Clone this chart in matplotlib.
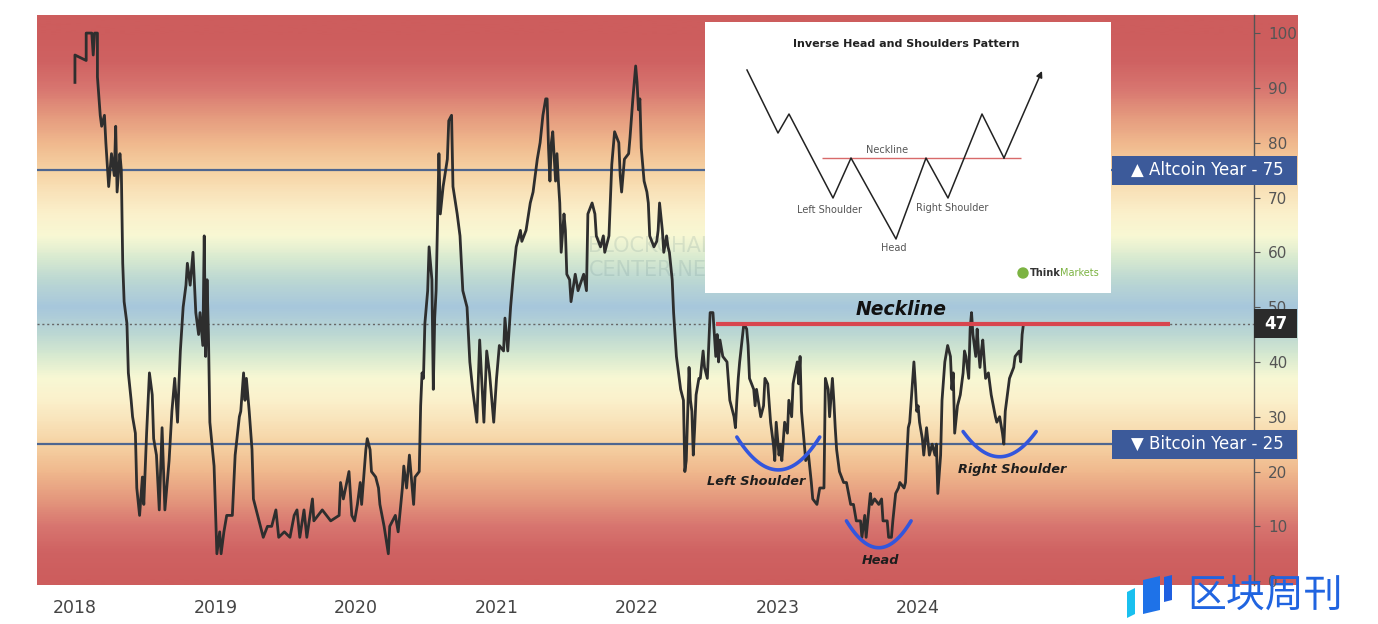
import numpy as np
import matplotlib.pyplot as plt
from matplotlib.colors import LinearSegmentedColormap
from matplotlib.patches import Rectangle, Polygon, Circle

# altcoin season index: decimal year / index value
t2018 = [2018.00, 2018.00, 2018.08, 2018.08, 2018.12, 2018.13, 2018.14, 2018.16, 2018.16, 2018.18,
         2018.19, 2018.21, 2018.22, 2018.23, 2018.24, 2018.26, 2018.28, 2018.29, 2018.30, 2018.32,
         2018.33, 2018.34, 2018.35, 2018.37, 2018.38, 2018.40, 2018.41, 2018.43, 2018.44, 2018.46,
         2018.48, 2018.49, 2018.51, 2018.53, 2018.55, 2018.56, 2018.58, 2018.60, 2018.62, 2018.64,
         2018.67, 2018.69, 2018.71, 2018.73, 2018.74, 2018.75, 2018.77, 2018.79, 2018.80, 2018.82,
         2018.84, 2018.86, 2018.88, 2018.89, 2018.91, 2018.92, 2018.93, 2018.94, 2018.95, 2018.96,
         2018.99]
v2018 = [91, 96, 95, 100, 100, 96, 100, 100, 92, 85,
         83, 85, 80, 76, 72, 78, 74, 83, 71, 78,
         75, 58, 51, 47, 38, 33, 30, 27, 17, 12,
         19, 14, 27, 38, 34, 26, 23, 13, 28, 13,
         22, 31, 37, 29, 36, 42, 50, 54, 58, 54,
         60, 49, 45, 49, 43, 63, 41, 55, 45, 29,
         21]

t2019 = [2019.01, 2019.03, 2019.04, 2019.06, 2019.08, 2019.12, 2019.14, 2019.17, 2019.18, 2019.20,
         2019.21, 2019.22, 2019.24, 2019.26, 2019.27, 2019.30, 2019.32, 2019.34, 2019.37, 2019.40,
         2019.43, 2019.45, 2019.49, 2019.53, 2019.56, 2019.58, 2019.60, 2019.63, 2019.65, 2019.69,
         2019.70, 2019.73, 2019.76, 2019.79, 2019.82, 2019.88, 2019.89, 2019.91, 2019.95, 2019.97,
         2019.99]
v2019 = [5, 9, 5, 9, 12, 12, 23, 30, 31, 38,
         33, 37, 31, 24, 15, 12, 10, 8, 10, 10,
         13, 8, 9, 8, 12, 13, 8, 13, 8, 15,
         11, 12, 13, 12, 11, 12, 18, 15, 20, 12,
         11]

t2020 = [2020.01, 2020.03, 2020.04, 2020.07, 2020.08, 2020.10, 2020.11, 2020.14, 2020.16, 2020.17,
         2020.20, 2020.23, 2020.24, 2020.28, 2020.30, 2020.33, 2020.34, 2020.36, 2020.38, 2020.41,
         2020.42, 2020.45, 2020.46, 2020.47, 2020.48, 2020.49, 2020.51, 2020.52, 2020.54, 2020.55,
         2020.56, 2020.57, 2020.59, 2020.60, 2020.62, 2020.65, 2020.66, 2020.68, 2020.69, 2020.72,
         2020.74, 2020.76, 2020.79, 2020.81, 2020.83, 2020.86, 2020.88, 2020.91, 2020.93, 2020.95,
         2020.98]
v2020 = [14, 18, 14, 24, 26, 24, 20, 19, 17, 14,
         10, 5, 10, 12, 9, 17, 21, 17, 23, 14,
         19, 20, 32, 38, 37, 47, 53, 61, 55, 35,
         48, 53, 78, 67, 72, 77, 84, 85, 72, 67,
         63, 53, 50, 40, 35, 29, 44, 29, 42, 38,
         29]

t2021 = [2021.00, 2021.02, 2021.05, 2021.06, 2021.08, 2021.10, 2021.12, 2021.14, 2021.17, 2021.18,
         2021.21, 2021.24, 2021.26, 2021.29, 2021.31, 2021.33, 2021.35, 2021.36, 2021.37, 2021.38,
         2021.39, 2021.40, 2021.42, 2021.43, 2021.44, 2021.45, 2021.46, 2021.48, 2021.49, 2021.50,
         2021.52, 2021.53, 2021.56, 2021.58, 2021.62, 2021.64, 2021.65, 2021.68, 2021.70, 2021.71,
         2021.74, 2021.76, 2021.77, 2021.80, 2021.82, 2021.84, 2021.87, 2021.88, 2021.89, 2021.91,
         2021.94, 2021.95, 2021.97, 2021.99]
v2021 = [37, 43, 42, 48, 42, 50, 56, 61, 64, 62,
         64, 69, 71, 77, 80, 85, 88, 88, 79, 73,
         80, 82, 73, 78, 73, 69, 60, 67, 64, 56,
         55, 51, 56, 53, 56, 53, 67, 69, 67, 63,
         61, 63, 60, 63, 76, 82, 80, 74, 71, 77,
         78, 81, 88, 94]

t2022 = [2022.00, 2022.01, 2022.02, 2022.03, 2022.05, 2022.07, 2022.08, 2022.09, 2022.12, 2022.14,
         2022.15, 2022.16, 2022.18, 2022.19, 2022.21, 2022.22, 2022.23, 2022.25, 2022.26, 2022.27,
         2022.28, 2022.31, 2022.33, 2022.34, 2022.35, 2022.37, 2022.38, 2022.39, 2022.40, 2022.41,
         2022.42, 2022.44, 2022.45, 2022.47, 2022.48, 2022.50, 2022.52, 2022.54, 2022.56, 2022.57,
         2022.58, 2022.59, 2022.61, 2022.64, 2022.66, 2022.69, 2022.70, 2022.71, 2022.72, 2022.73,
         2022.76, 2022.78, 2022.79, 2022.80, 2022.83, 2022.84, 2022.85, 2022.88, 2022.90, 2022.91,
         2022.93, 2022.95, 2022.97, 2022.98, 2022.99]
v2022 = [91, 86, 88, 79, 73, 71, 69, 63, 61, 62,
         64, 69, 64, 60, 63, 61, 60, 55, 49, 45,
         41, 35, 33, 20, 22, 39, 33, 31, 23, 28,
         34, 37, 37, 42, 39, 37, 49, 49, 41, 45,
         40, 44, 41, 40, 33, 30, 28, 33, 37, 40,
         47, 46, 43, 37, 35, 32, 35, 30, 32, 37,
         36, 29, 25, 22, 29]

t2023 = [2023.01, 2023.02, 2023.03, 2023.05, 2023.07, 2023.08, 2023.10, 2023.11, 2023.14, 2023.15,
         2023.16, 2023.17, 2023.19, 2023.20, 2023.22, 2023.24, 2023.25, 2023.28, 2023.30, 2023.33,
         2023.34, 2023.36, 2023.37, 2023.39, 2023.40, 2023.41, 2023.42, 2023.44, 2023.47, 2023.49,
         2023.52, 2023.54, 2023.56, 2023.59, 2023.60, 2023.62, 2023.63, 2023.66, 2023.67, 2023.69,
         2023.72, 2023.74, 2023.75, 2023.78, 2023.79, 2023.81, 2023.82, 2023.84, 2023.86, 2023.87,
         2023.90, 2023.91, 2023.93, 2023.94, 2023.97, 2023.98, 2023.99]
v2023 = [23, 25, 22, 29, 27, 33, 30, 36, 40, 36,
         41, 31, 25, 22, 23, 18, 15, 14, 17, 17,
         37, 35, 30, 37, 33, 28, 24, 20, 18, 18,
         14, 14, 11, 11, 8, 12, 8, 16, 14, 15,
         14, 15, 11, 11, 8, 8, 11, 16, 17, 18,
         17, 18, 28, 29, 40, 36, 31]

t2024 = [2024.00, 2024.01, 2024.03, 2024.04, 2024.06, 2024.08, 2024.10, 2024.12, 2024.13, 2024.14,
         2024.16, 2024.17, 2024.19, 2024.21, 2024.23, 2024.24, 2024.25, 2024.26, 2024.28, 2024.30,
         2024.32, 2024.33, 2024.34, 2024.36, 2024.37, 2024.38, 2024.39, 2024.41, 2024.42, 2024.43,
         2024.44, 2024.45, 2024.46, 2024.48, 2024.50, 2024.52, 2024.55, 2024.56, 2024.58, 2024.60,
         2024.61, 2024.62, 2024.63, 2024.65, 2024.68, 2024.69, 2024.72, 2024.73, 2024.74, 2024.75]
v2024 = [32, 29, 26, 23, 28, 23, 25, 23, 25, 16,
         23, 33, 40, 43, 41, 35, 38, 27, 32, 34,
         38, 42, 41, 37, 46, 49, 45, 41, 46, 42,
         39, 42, 44, 37, 38, 34, 30, 29, 30, 27,
         25, 31, 33, 37, 39, 41, 42, 40, 45, 47]

years = [2018, 2019, 2020, 2021, 2022, 2023, 2024]
yticks = list(range(0, 101, 10))
altcoin_level = 75
bitcoin_level = 25
last_value = 47

# inverse head & shoulders pattern: start, end of each smile, their rim and bottom level
shape_names = ['Left Shoulder', 'Head', 'Right Shoulder']
arc_start = [2022.71, 2023.49, 2024.32]
arc_end = [2023.30, 2023.95, 2024.84]
arc_rim = [26.3, 11.0, 27.3]
arc_bottom = [20.3, 6.1, 22.7]
label_t = [2022.85, 2023.73, 2024.67]
label_v = [18.1, 3.8, 20.3]
neck_from, neck_to = 2022.56, 2025.79

# schematic in the inset (inset pixel units, y down)
pat_x = [42, 73, 84, 128, 146, 191, 221, 243, 277, 299, 337]
pat_y = [48, 111, 92, 176, 136, 217, 136, 176, 92, 136, 49]

t = np.concatenate([t2018, t2019, t2020, t2021, t2022, t2023, t2024])
v = np.concatenate([v2018, v2019, v2020, v2021, v2022, v2023, v2024])

W, H = 1378, 624
def fx(px):
    return px / W
def fy(py):
    return 1 - py / H

ylo, yhi = -0.7, 103.3
xlo, xhi = 2017.73, 2026.39

fig = plt.figure(figsize=(13.78, 6.24), dpi=100)

# gradient background, symmetric around 50
half = [(0, '#cd5d5d'), (5, '#cf6262'), (10, '#d87670'), (15, '#e59a7e'), (20, '#f0b98e'),
        (25, '#f6d3a4'), (29, '#f9e3ba'), (33, '#fbf1cc'), (37, '#f8f8d4'), (41, '#d8ead0'),
        (45, '#bcd8d3'), (50, '#a7c7dc')]
stops = half + [(100 - p, c) for p, c in reversed(half[:-1])]
cmap = LinearSegmentedColormap.from_list('season', [(p / 100, c) for p, c in stops])
bg = fig.add_axes([fx(37), fy(585), fx(1298) - fx(37), fy(15) - fy(585)])
grad = np.linspace(ylo, yhi, 500).reshape(-1, 1)
bg.imshow(grad, aspect='auto', cmap=cmap, vmin=0, vmax=100, origin='lower',
          extent=[0, 1, ylo, yhi], interpolation='bilinear')
bg.set_xlim(0, 1)
bg.set_ylim(ylo, yhi)
bg.axis('off')

ax = fig.add_axes([fx(37), fy(585), fx(1254) - fx(37), fy(15) - fy(585)])
ax.patch.set_alpha(0)
ax.set_xlim(xlo, xhi)
ax.set_ylim(ylo, yhi)

ax.text(2021.65, 61.2, 'BLOCKCHAIN', fontsize=15, color='#5d7f86', alpha=0.16, va='center')
ax.text(2021.66, 56.8, 'CENTER.NET', fontsize=15, color='#5d7f86', alpha=0.16, va='center')

ax.axhline(altcoin_level, color='#4e6690', lw=1.6, zorder=3)
ax.axhline(bitcoin_level, color='#4e6690', lw=1.6, zorder=3)
ax.axhline(last_value, color='#666666', lw=1, ls=(0, (1.5, 2)), zorder=2)
ax.plot(t, v, color='#2e2e2e', lw=2.0, zorder=5)
ax.hlines(last_value, neck_from, neck_to, color='#d8454f', lw=3, zorder=6)
ax.text((neck_from + 2025.2) / 2, 49.5, 'Neckline', fontsize=13.5, fontweight='bold',
        fontstyle='italic', color='#111111', ha='center', va='center', zorder=7)

for i in range(3):
    tt = np.linspace(arc_start[i], arc_end[i], 60)
    mid = (arc_start[i] + arc_end[i]) / 2
    hw = (arc_end[i] - arc_start[i]) / 2
    vv = arc_bottom[i] + (arc_rim[i] - arc_bottom[i]) * ((tt - mid) / hw) ** 2
    ax.plot(tt, vv, color='#3356dd', lw=2.6, zorder=7, solid_capstyle='round')
    ax.text(label_t[i], label_v[i], shape_names[i], fontsize=9.3, fontweight='bold',
            fontstyle='italic', color='#1e1e1e', ha='center', va='center', zorder=7)

for s in ['top', 'left', 'bottom']:
    ax.spines[s].set_visible(False)
ax.spines['right'].set_color('#555555')
ax.spines['right'].set_linewidth(1)
ax.yaxis.tick_right()
ax.set_yticks(yticks)
ax.set_yticklabels([str(y) for y in yticks])
ax.tick_params(axis='y', length=4, color='#555555', labelsize=11, labelcolor='#555555', pad=6)
ax.set_xticks(years)
ax.set_xticklabels([str(y) for y in years])
ax.tick_params(axis='x', length=0, labelsize=12.5, labelcolor='#444444', pad=10)

# level boxes on the right
btr = ax.get_yaxis_transform()
box_l = (1112 - 37) / 1217
box_r = (1297 - 37) / 1217
for lvl, txt in [(altcoin_level, '\u25b2 Altcoin Year - 75'), (bitcoin_level, '\u25bc Bitcoin Year - 25')]:
    ax.add_patch(Rectangle((box_l, lvl - 2.65), box_r - box_l, 5.3, transform=btr,
                           facecolor='#3c5a9a', edgecolor='none', clip_on=False, zorder=8))
    ax.text((box_l + box_r) / 2 + 0.002, lvl, txt, transform=btr, color='white', fontsize=12,
            ha='center', va='center', zorder=9, clip_on=False)
ax.add_patch(Rectangle((1.0, last_value - 2.65), box_r - 1.0, 5.3, transform=btr,
                       facecolor='#2b2b2b', edgecolor='none', clip_on=False, zorder=8))
ax.text((1.0 + box_r) / 2, last_value, str(last_value), transform=btr, color='white',
        fontsize=12, fontweight='bold', ha='center', va='center', zorder=9, clip_on=False)

# inset picture of the textbook pattern
ins = fig.add_axes([fx(705), fy(293), fx(1111) - fx(705), fy(22) - fy(293)])
ins.set_xlim(0, 406)
ins.set_ylim(271, 0)
ins.set_facecolor('white')
for s in ins.spines.values():
    s.set_visible(False)
ins.set_xticks([])
ins.set_yticks([])
ins.hlines(pat_y[4], 117, 316, color='#d86a6a', lw=1)
ins.plot(pat_x[:-1], pat_y[:-1], color='#222222', lw=1.1)
ins.annotate('', xy=(pat_x[-1], pat_y[-1]), xytext=(pat_x[-2], pat_y[-2]),
             arrowprops=dict(arrowstyle='-|>', color='#222222', lw=1.1, mutation_scale=9,
                             shrinkA=0, shrinkB=0))
ins.text(201, 22, 'Inverse Head and Shoulders Pattern', fontsize=8, fontweight='bold',
         color='#222222', ha='center', va='center')
ins.text(182, 128, 'Neckline', fontsize=7, color='#555555', ha='center', va='center')
ins.text(125, 188, 'Left Shoulder', fontsize=7, color='#555555', ha='center', va='center')
ins.text(189, 226, 'Head', fontsize=7, color='#555555', ha='center', va='center')
ins.text(247, 186, 'Right Shoulder', fontsize=7, color='#555555', ha='center', va='center')
ins.add_patch(Circle((318, 251), 5, color='#7cb342'))
ins.text(325, 251, 'Think', fontsize=7, fontweight='bold', color='#333333', va='center')
ins.text(355, 251, 'Markets', fontsize=7, color='#7cb342', va='center')

# watermark
for pts, col in [([(1127, 592), (1135, 588), (1135, 614), (1127, 618)], '#19c0ef'),
                 ([(1143, 580), (1160, 576), (1160, 610), (1143, 614)], '#1e72e8'),
                 ([(1164, 577), (1172, 575), (1172, 600), (1164, 602)], '#1f5fe0')]:
    fig.patches.append(Polygon([(fx(a), fy(b)) for a, b in pts], closed=True,
                               transform=fig.transFigure, facecolor=col, edgecolor='none'))
fig.text(fx(1265), fy(597), '区块周刊', family=['Noto Sans CJK SC', 'DejaVu Sans'],
         fontsize=28, color='#2064e0', ha='center', va='center')

fig.savefig('out.png', dpi=100)
